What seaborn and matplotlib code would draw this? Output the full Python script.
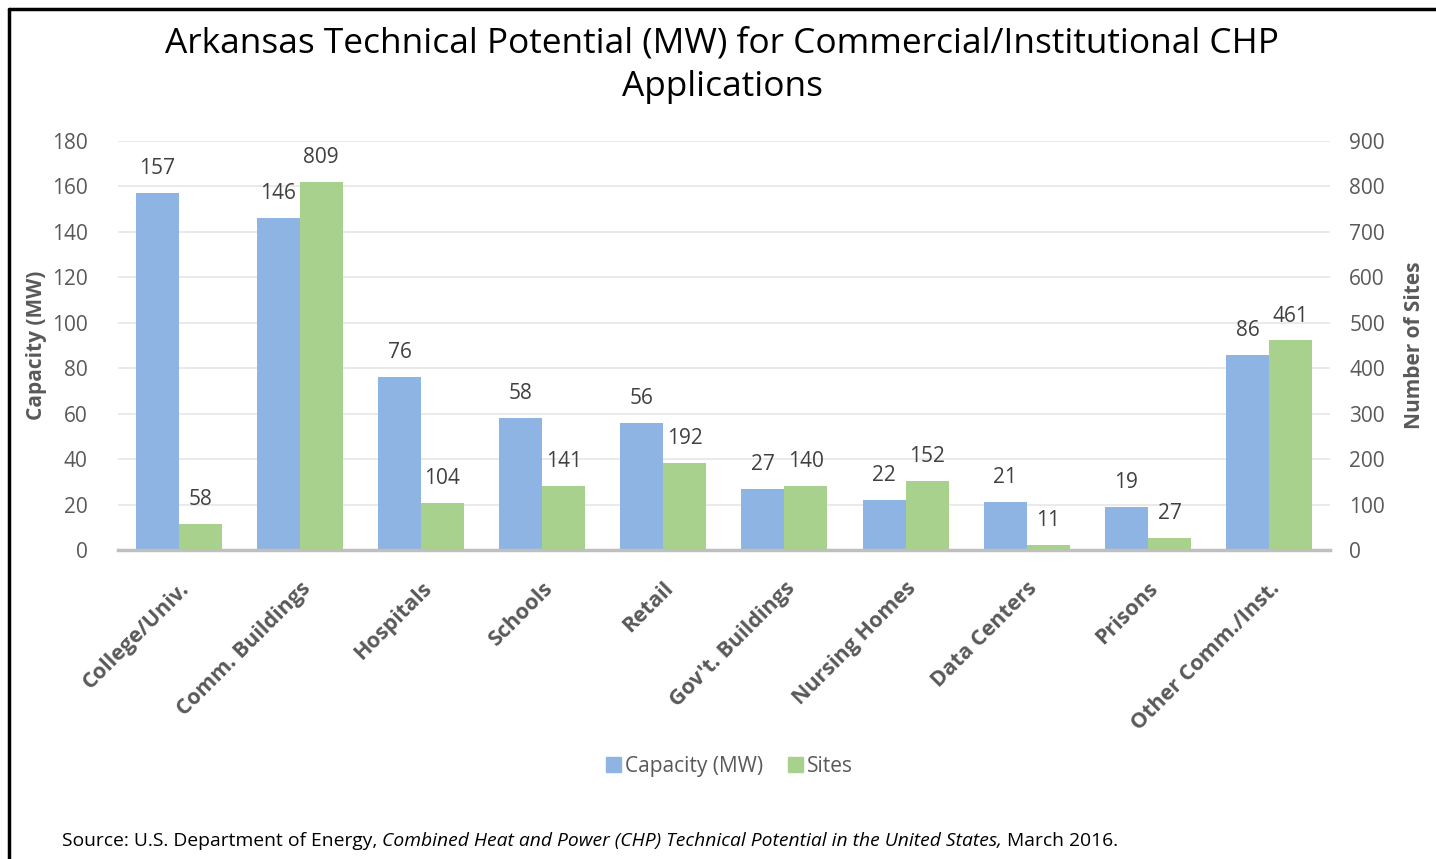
import numpy as np
import pandas as pd
import seaborn as sns
import matplotlib.pyplot as plt
from matplotlib.lines import Line2D

# chart data
categories = ["College/Univ.", "Comm. Buildings", "Hospitals", "Schools", "Retail",
              "Gov't. Buildings", "Nursing Homes", "Data Centers", "Prisons",
              "Other Comm./Inst."]
capacity_mw = [157, 146, 76, 58, 56, 27, 22, 21, 19, 86]
sites = [58, 809, 104, 141, 192, 140, 152, 11, 27, 461]
series_names = ["Capacity (MW)", "Sites"]
cap_ticks = [0, 20, 40, 60, 80, 100, 120, 140, 160, 180]
site_ticks = [0, 100, 200, 300, 400, 500, 600, 700, 800, 900]

blue = "#8db4e2"
green = "#a9d18e"
gray = "#595959"

sns.set_theme(style="white")
plt.rcParams["font.family"] = ["Open Sans", "DejaVu Sans"]

# long form table; each axis gets only its own series, the other left empty
long = pd.DataFrame({
    "category": categories * 2,
    "series": [series_names[0]] * len(categories) + [series_names[1]] * len(categories),
    "value": capacity_mw + sites,
})
left_df = long.copy()
left_df.loc[left_df["series"] == "Sites", "value"] = np.nan
right_df = long.copy()
right_df.loc[right_df["series"] == "Capacity (MW)", "value"] = np.nan

fig = plt.figure(figsize=(14.36, 8.59), dpi=100)
ax = fig.add_axes([0.0822, 0.3597, 0.8438, 0.4762])
ax2 = ax.twinx()

pal = {series_names[0]: blue, series_names[1]: green}
sns.barplot(data=left_df, x="category", y="value", hue="series", hue_order=series_names,
            order=categories, palette=pal, width=0.71, ax=ax, legend=False,
            saturation=1, linewidth=0, errorbar=None)
sns.barplot(data=right_df, x="category", y="value", hue="series", hue_order=series_names,
            order=categories, palette=pal, width=0.71, ax=ax2, legend=False,
            saturation=1, linewidth=0, errorbar=None)

ax.set_ylim(0, 180)
ax2.set_ylim(0, 900)
ax.set_xlim(-0.5, len(categories) - 0.5)
ax.set_yticks(cap_ticks)
ax2.set_yticks(site_ticks)

# value labels
for a in (ax, ax2):
    for cont in a.containers:
        vals = [b.get_height() for b in cont]
        if all(np.isnan(v) for v in vals):
            continue
        a.bar_label(cont, fmt="%d", padding=10, fontsize=15, color="#404040")

# grid on the left axis, behind bars
ax.set_axisbelow(True)
ax.yaxis.grid(True, color="#e6e6e6", linewidth=1.2)

for a in (ax, ax2):
    for s in a.spines.values():
        s.set_visible(False)
    a.tick_params(axis="both", length=0, labelsize=15, labelcolor=gray)
ax.spines["bottom"].set_visible(True)
ax.spines["bottom"].set_color("#bfbfbf")
ax.spines["bottom"].set_linewidth(2.5)
ax.tick_params(axis="y", pad=22)
ax2.tick_params(axis="y", pad=14)
ax.tick_params(axis="x", pad=20)

ax.set_xticks(range(len(categories)))
ax.set_xticklabels(categories, rotation=45, ha="right", rotation_mode="anchor",
                   fontsize=15.5, fontweight="bold", color=gray)
ax.set_xlabel("")
ax.set_ylabel("Capacity (MW)", fontsize=15, fontweight="bold", color=gray, labelpad=3)
ax2.set_ylabel("Number of Sites", fontsize=15, fontweight="bold", color=gray, labelpad=14)
ax2.set_xlabel("")

fig.text(0.503, 0.924, "Arkansas Technical Potential (MW) for Commercial/Institutional CHP\nApplications",
         ha="center", va="center", fontsize=25.4, color="black", linespacing=1.35)

handles = [plt.Rectangle((0, 0), 1, 1, color=blue), plt.Rectangle((0, 0), 1, 1, color=green)]
fig.legend(handles, series_names, loc="center", bbox_to_anchor=(0.508, 0.108), ncol=2,
           frameon=False, fontsize=15, labelcolor=gray, handlelength=0.7, handleheight=0.7,
           handletextpad=0.2, columnspacing=1.2)

# source line with italic title
fig.canvas.draw()
renderer = fig.canvas.get_renderer()
x0 = 62 / 1436
y0 = 1 - 841 / 859
pieces = [("Source: U.S. Department of Energy, ", "normal"),
          ("Combined Heat and Power (CHP) Technical Potential in the United States,", "italic"),
          (" March 2016.", "normal")]
for txt, style in pieces:
    t = fig.text(x0, y0, txt, ha="left", va="center", fontsize=13.9, style=style, color="black")
    bb = t.get_window_extent(renderer=renderer)
    x0 += bb.width / fig.bbox.width

# frame lines on top and left edges
fig.add_artist(Line2D([9 / 1436, 9 / 1436], [0, 1 - 9 / 859], transform=fig.transFigure,
                      color="black", linewidth=2.5))
fig.add_artist(Line2D([9 / 1436, 1], [1 - 9 / 859, 1 - 9 / 859], transform=fig.transFigure,
                      color="black", linewidth=2.5))

fig.savefig("out.png", dpi=100, facecolor="white")
